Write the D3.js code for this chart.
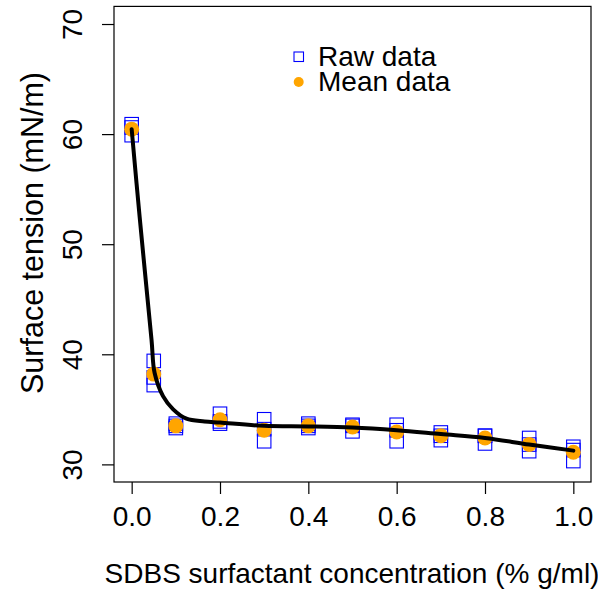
<!DOCTYPE html>
<html><head><meta charset="utf-8">
<script src="https://cdn.jsdelivr.net/npm/d3@7"></script>
<style>body{margin:0;background:#fff}svg{display:block}text{font-family:"Liberation Sans",Arial,sans-serif}</style>
</head><body><svg id="c" width="598" height="592"></svg>
<script>
const concentrations = [0, 0.05, 0.1, 0.2, 0.3, 0.4, 0.5, 0.6, 0.7, 0.8, 0.9, 1.0];
const rawRep1 = [60.9, 39.4, 33.7, 34.6, 34.1, 33.7, 33.6, 33.6, 32.9, 32.6, 32.4, 31.6];
const rawRep2 = [60.6, 37.9, 33.5, 33.9, 33.2, 33.5, 33.5, 33.1, 32.6, 32.6, 31.8, 31.3];
const rawRep3 = [59.9, 37.2, 33.3, 33.7, 32.1, 33.3, 33.0, 32.1, 32.2, 31.9, 31.2, 30.3];
const meanValues = [60.45, 38.2, 33.5, 34.05, 33.1, 33.5, 33.4, 32.95, 32.6, 32.4, 31.8, 31.1];
const fitX = [0, 0.018, 0.045, 0.052, 0.071, 0.094, 0.124, 0.165, 0.2, 0.3, 0.4, 0.5, 0.6, 0.7, 0.8, 0.9, 1.0];
const fitY = [60.45, 52.5, 41.3, 38.3, 36.2, 35.0, 34.15, 33.9, 33.8, 33.5, 33.45, 33.35, 33.1, 32.75, 32.4, 31.8, 31.25];
const xTicks = [0, 0.2, 0.4, 0.6, 0.8, 1.0];
const yTicks = [30, 40, 50, 60, 70];
const xTitle = "SDBS surfactant concentration (% g/ml)";
const yTitle = "Surface tension (mN/m)";
const legendLabels = ["Raw data", "Mean data"];

const svg = d3.select("#c");
const L = 114, R = 591, T = 6.4, B = 482;
const x = d3.scaleLinear().domain([-0.04, 1.04]).range([L, R]);
const y = d3.scaleLinear().domain([28.4, 71.6]).range([B, T]);
const fs = 28;
const ff = '"Liberation Sans",Arial,sans-serif';

svg.append("rect").attr("x", L).attr("y", T).attr("width", R - L).attr("height", B - T)
  .attr("fill", "none").attr("stroke", "#000").attr("stroke-width", 1.2);

const xa = svg.append("g").attr("transform", `translate(0,${B})`)
  .call(d3.axisBottom(x).tickValues(xTicks).tickFormat(d3.format(".1f")).tickSize(12).tickPadding(12));
xa.select(".domain").remove();
xa.selectAll("line").attr("stroke-width", 1.2);
xa.selectAll("text").attr("font-size", fs).attr("fill", "#000").attr("font-family", ff);

const ya = svg.append("g").attr("transform", `translate(${L},0)`)
  .call(d3.axisLeft(y).tickValues(yTicks).tickSize(12).tickPadding(0));
ya.select(".domain").remove();
ya.selectAll("line").attr("stroke-width", 1.2);
ya.selectAll("text").attr("font-size", fs).attr("fill", "#000").attr("font-family", ff)
  .attr("text-anchor", "middle").attr("dy", null).attr("x", null)
  .attr("transform", "translate(-41,0) rotate(-90) translate(0,9)");

svg.append("text").attr("x", 352).attr("y", 583).attr("text-anchor", "middle").attr("font-size", fs).text(xTitle);
svg.append("text").attr("transform", `translate(43,${233}) rotate(-90)`).attr("text-anchor", "middle").attr("font-size", 30.5).text(yTitle);

const sq = 13.5;
[rawRep1, rawRep2, rawRep3].forEach(rep => {
  svg.append("g").selectAll("rect").data(concentrations).join("rect")
    .attr("x", (d) => x(d) - sq / 2).attr("y", (d, i) => y(rep[i]) - sq / 2)
    .attr("width", sq).attr("height", sq)
    .attr("fill", "none").attr("stroke", "#0000ff").attr("stroke-width", 1.1);
});

svg.append("g").selectAll("circle").data(concentrations).join("circle")
  .attr("cx", d => x(d)).attr("cy", (d, i) => y(meanValues[i])).attr("r", 7.5).attr("fill", "#ffa500");

const line = d3.line().x(d => x(d[0])).y(d => y(d[1])).curve(d3.curveCatmullRom.alpha(0.5));
svg.append("path").datum(fitX.map((v, i) => [v, fitY[i]])).attr("d", line)
  .attr("fill", "none").attr("stroke", "#000").attr("stroke-width", 4).attr("stroke-linejoin", "round").attr("stroke-linecap", "round");

svg.append("rect").attr("x", 294).attr("y", 52).attr("width", 9.5).attr("height", 9.5)
  .attr("fill", "none").attr("stroke", "#0000ff").attr("stroke-width", 1.1);
svg.append("circle").attr("cx", 298.7).attr("cy", 82).attr("r", 5).attr("fill", "#ffa500");
svg.append("text").attr("x", 318).attr("y", 66).attr("font-size", fs).text(legendLabels[0]);
svg.append("text").attr("x", 318).attr("y", 91).attr("font-size", fs).text(legendLabels[1]);
</script></body></html>
